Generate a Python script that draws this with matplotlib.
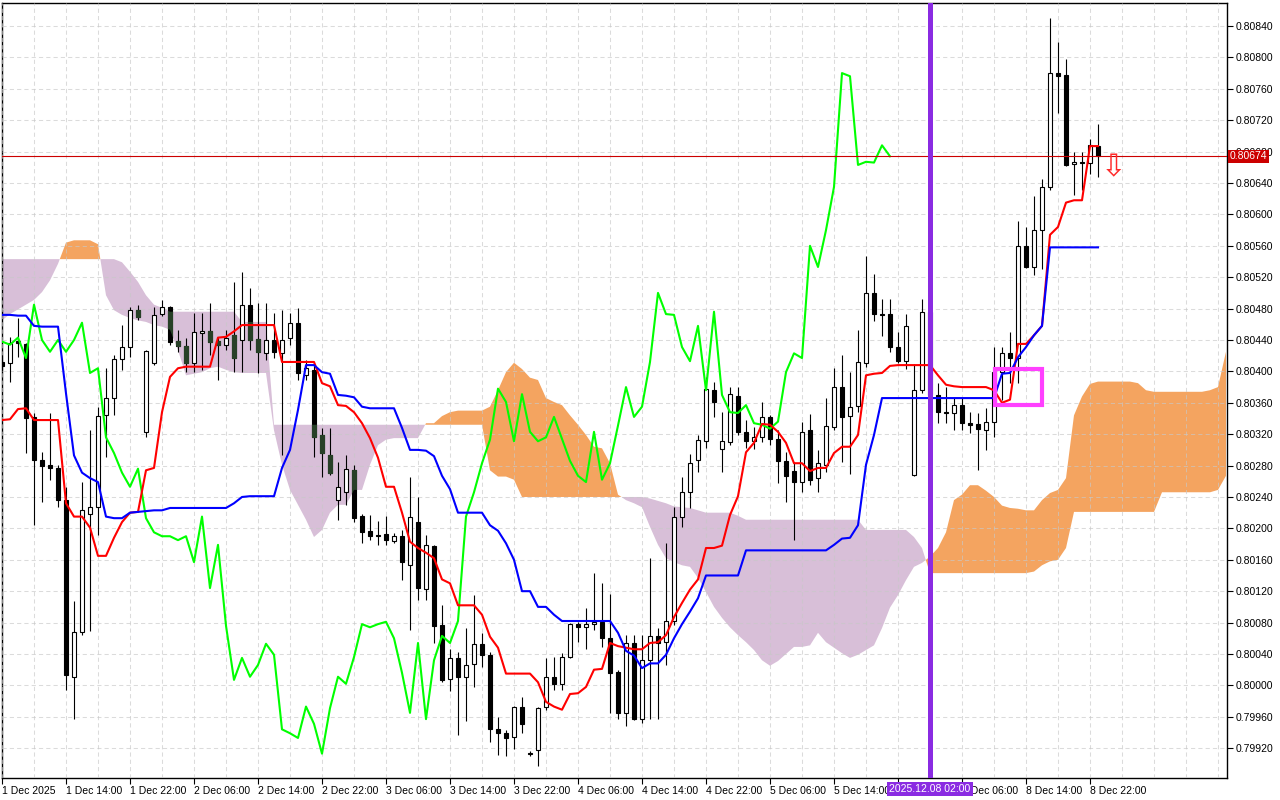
import matplotlib
matplotlib.use("Agg")
import matplotlib.pyplot as plt
import numpy as np
from matplotlib.path import Path
from matplotlib.patches import Rectangle
from matplotlib.ticker import MultipleLocator

# H1 candles, bar 0 = 1 Dec 06:00, bar 137 = 8 Dec 23:00
opens = [
    0.80412, 0.80411, 0.80439, 0.80435, 0.80342, 0.80287, 0.80281, 0.80277, 0.80236, 0.80011,
    0.80068, 0.80218, 0.80227, 0.80344, 0.80366, 0.80416, 0.80431, 0.80478, 0.80323, 0.80411,
    0.80473, 0.80482, 0.80439, 0.80432, 0.80411, 0.80449, 0.80451, 0.80439, 0.80434, 0.80446,
    0.80440, 0.80485, 0.80441, 0.80423, 0.80440, 0.80423, 0.80443, 0.80462, 0.80395, 0.80402,
    0.80319, 0.80293, 0.80236, 0.80246, 0.80274, 0.80216, 0.80197, 0.80192, 0.80193, 0.80184,
    0.80190, 0.80153, 0.80208, 0.80123, 0.80178, 0.80077, 0.80008, 0.80035, 0.80011, 0.80027,
    0.80053, 0.80039, 0.79944, 0.79939, 0.79934, 0.79973, 0.79914, 0.79918, 0.79973, 0.80011,
    0.80002, 0.80036, 0.80078, 0.80074, 0.80078, 0.80081, 0.80060, 0.80017, 0.79965, 0.80054,
    0.79957, 0.80032, 0.80063, 0.80055, 0.80082, 0.80215, 0.80246, 0.80287, 0.80311, 0.80376,
    0.80301, 0.80310, 0.80369, 0.80323, 0.80311, 0.80316, 0.80342, 0.80314, 0.80286, 0.80273,
    0.80259, 0.80325, 0.80264, 0.80281, 0.80329, 0.80380, 0.80343, 0.80356, 0.80411, 0.80500,
    0.80473, 0.80473, 0.80431, 0.80413, 0.80268, 0.80376, 0.80476, 0.80370, 0.80348, 0.80347,
    0.80357, 0.80334, 0.80333, 0.80325, 0.80336, 0.80399, 0.80423, 0.80417, 0.80560, 0.80533,
    0.80580, 0.80635, 0.80780, 0.80778, 0.80664, 0.80667, 0.80666, 0.80687,
]
highs = [
    0.80421, 0.80444, 0.80468, 0.80436, 0.80347, 0.80297, 0.80347, 0.80281, 0.80253, 0.80108,
    0.80259, 0.80325, 0.80355, 0.80404, 0.80421, 0.80459, 0.80482, 0.80485, 0.80427, 0.80482,
    0.80491, 0.80483, 0.80453, 0.80443, 0.80474, 0.80474, 0.80487, 0.80444, 0.80453, 0.80514,
    0.80527, 0.80506, 0.80487, 0.80487, 0.80474, 0.80478, 0.80474, 0.80481, 0.80415, 0.80408,
    0.80328, 0.80328, 0.80285, 0.80293, 0.80281, 0.80218, 0.80217, 0.80209, 0.80216, 0.80194,
    0.80198, 0.80266, 0.80240, 0.80192, 0.80179, 0.80102, 0.80046, 0.80043, 0.80073, 0.80115,
    0.80067, 0.80043, 0.79960, 0.79943, 0.79974, 0.79985, 0.79916, 0.79973, 0.80035, 0.80036,
    0.80041, 0.80080, 0.80081, 0.80099, 0.80143, 0.80130, 0.80116, 0.80020, 0.80064, 0.80064,
    0.80064, 0.80162, 0.80073, 0.80181, 0.80227, 0.80266, 0.80295, 0.80319, 0.80393, 0.80387,
    0.80348, 0.80380, 0.80380, 0.80338, 0.80329, 0.80361, 0.80344, 0.80325, 0.80297, 0.80285,
    0.80336, 0.80346, 0.80300, 0.80366, 0.80404, 0.80421, 0.80399, 0.80453, 0.80547, 0.80524,
    0.80492, 0.80492, 0.80450, 0.80473, 0.80410, 0.80492, 0.80485, 0.80385, 0.80380, 0.80366,
    0.80366, 0.80348, 0.80347, 0.80353, 0.80431, 0.80431, 0.80450, 0.80592, 0.80584, 0.80624,
    0.80645, 0.80850, 0.80820, 0.80798, 0.80680, 0.80680, 0.80696, 0.80715,
]
lows = [
    0.80402, 0.80387, 0.80418, 0.80296, 0.80204, 0.80234, 0.80262, 0.80227, 0.79994, 0.79957,
    0.80064, 0.80069, 0.80192, 0.80291, 0.80344, 0.80402, 0.80418, 0.80465, 0.80316, 0.80408,
    0.80471, 0.80434, 0.80425, 0.80399, 0.80399, 0.80402, 0.80421, 0.80389, 0.80427, 0.80399,
    0.80399, 0.80427, 0.80398, 0.80415, 0.80417, 0.80293, 0.80434, 0.80389, 0.80389, 0.80291,
    0.80266, 0.80268, 0.80211, 0.80230, 0.80208, 0.80181, 0.80185, 0.80179, 0.80179, 0.80181,
    0.80134, 0.80071, 0.80109, 0.80109, 0.80054, 0.80004, 0.79993, 0.79937, 0.79955, 0.79998,
    0.80023, 0.79928, 0.79911, 0.79910, 0.79919, 0.79939, 0.79910, 0.79897, 0.79969, 0.79994,
    0.79994, 0.80035, 0.80055, 0.80046, 0.80071, 0.80049, 0.79965, 0.79957, 0.79948, 0.79956,
    0.79952, 0.79957, 0.79957, 0.80026, 0.80077, 0.80202, 0.80226, 0.80272, 0.80302, 0.80342,
    0.80272, 0.80306, 0.80319, 0.80302, 0.80301, 0.80310, 0.80306, 0.80258, 0.80234, 0.80185,
    0.80246, 0.80255, 0.80246, 0.80272, 0.80325, 0.80285, 0.80269, 0.80348, 0.80406, 0.80464,
    0.80445, 0.80425, 0.80411, 0.80403, 0.80267, 0.80372, 0.80364, 0.80334, 0.80334, 0.80325,
    0.80325, 0.80322, 0.80274, 0.80300, 0.80316, 0.80364, 0.80385, 0.80385, 0.80532, 0.80523,
    0.80530, 0.80631, 0.80729, 0.80662, 0.80625, 0.80631, 0.80651, 0.80648,
]
closes = [
    0.80407, 0.80436, 0.80436, 0.80341, 0.80287, 0.80280, 0.80277, 0.80236, 0.80013, 0.80068,
    0.80223, 0.80227, 0.80343, 0.80366, 0.80416, 0.80431, 0.80478, 0.80469, 0.80426, 0.80472,
    0.80482, 0.80438, 0.80432, 0.80411, 0.80450, 0.80451, 0.80438, 0.80434, 0.80443, 0.80417,
    0.80485, 0.80440, 0.80425, 0.80440, 0.80425, 0.80440, 0.80462, 0.80398, 0.80404, 0.80316,
    0.80296, 0.80271, 0.80253, 0.80276, 0.80213, 0.80195, 0.80190, 0.80190, 0.80185, 0.80190,
    0.80157, 0.80215, 0.80124, 0.80179, 0.80076, 0.80007, 0.80035, 0.80011, 0.80026, 0.80053,
    0.80039, 0.79944, 0.79939, 0.79933, 0.79973, 0.79951, 0.79913, 0.79971, 0.80011, 0.80002,
    0.80036, 0.80078, 0.80074, 0.80078, 0.80081, 0.80060, 0.80016, 0.79965, 0.80054, 0.79957,
    0.80032, 0.80063, 0.80054, 0.80082, 0.80215, 0.80246, 0.80283, 0.80313, 0.80378, 0.80361,
    0.80311, 0.80371, 0.80323, 0.80311, 0.80316, 0.80342, 0.80314, 0.80286, 0.80267, 0.80259,
    0.80323, 0.80262, 0.80283, 0.80331, 0.80380, 0.80342, 0.80355, 0.80412, 0.80500, 0.80473,
    0.80472, 0.80431, 0.80413, 0.80458, 0.80376, 0.80476, 0.80370, 0.80348, 0.80347, 0.80357,
    0.80334, 0.80332, 0.80327, 0.80336, 0.80399, 0.80423, 0.80417, 0.80560, 0.80533, 0.80580,
    0.80635, 0.80780, 0.80776, 0.80663, 0.80667, 0.80666, 0.80688, 0.80674,
]

tenkan = [
    0.80338, 0.80339, 0.80352, 0.80353, 0.80338, 0.80338, 0.80338, 0.80338, 0.80232, 0.80215,
    0.80215, 0.80201, 0.80165, 0.80165, 0.80188, 0.80208, 0.80220, 0.80221, 0.80274, 0.80277,
    0.80348, 0.80393, 0.80404, 0.80406, 0.80406, 0.80406, 0.80406, 0.80443, 0.80444, 0.80451,
    0.80459, 0.80459, 0.80459, 0.80459, 0.80459, 0.80412, 0.80412, 0.80412, 0.80412, 0.80412,
    0.80385, 0.80381, 0.80357, 0.80356, 0.80348, 0.80334, 0.80315, 0.80290, 0.80253, 0.80253,
    0.80220, 0.80183, 0.80175, 0.80169, 0.80162, 0.80135, 0.80130, 0.80102, 0.80102, 0.80102,
    0.80090, 0.80062, 0.80048, 0.80015, 0.80015, 0.80015, 0.80015, 0.80004, 0.79979, 0.79973,
    0.79969, 0.79989, 0.79990, 0.79998, 0.80020, 0.80021, 0.80054, 0.80050, 0.80048, 0.80046,
    0.80046, 0.80054, 0.80055, 0.80064, 0.80087, 0.80105, 0.80122, 0.80135, 0.80175, 0.80175,
    0.80178, 0.80217, 0.80241, 0.80297, 0.80309, 0.80333, 0.80332, 0.80323, 0.80309, 0.80283,
    0.80283, 0.80273, 0.80277, 0.80277, 0.80296, 0.80304, 0.80304, 0.80319, 0.80395, 0.80397,
    0.80398, 0.80407, 0.80408, 0.80408, 0.80408, 0.80408, 0.80408, 0.80395, 0.80383, 0.80381,
    0.80380, 0.80380, 0.80380, 0.80380, 0.80376, 0.80360, 0.80364, 0.80435, 0.80435, 0.80446,
    0.80458, 0.80574, 0.80584, 0.80615, 0.80618, 0.80618, 0.80687, 0.80687,
]
kijun = [
    0.80472, 0.80472, 0.80471, 0.80471, 0.80458, 0.80457, 0.80457, 0.80457, 0.80372, 0.80293,
    0.80271, 0.80264, 0.80259, 0.80215, 0.80213, 0.80213, 0.80220, 0.80221, 0.80222, 0.80223,
    0.80223, 0.80226, 0.80226, 0.80226, 0.80226, 0.80226, 0.80226, 0.80226, 0.80226, 0.80232,
    0.80240, 0.80241, 0.80241, 0.80241, 0.80241, 0.80277, 0.80300, 0.80351, 0.80408, 0.80408,
    0.80399, 0.80397, 0.80370, 0.80369, 0.80367, 0.80355, 0.80353, 0.80353, 0.80353, 0.80353,
    0.80328, 0.80300, 0.80300, 0.80299, 0.80292, 0.80267, 0.80250, 0.80220, 0.80220, 0.80220,
    0.80220, 0.80204, 0.80197, 0.80181, 0.80160, 0.80120, 0.80120, 0.80100, 0.80100, 0.80090,
    0.80082, 0.80082, 0.80082, 0.80082, 0.80082, 0.80082, 0.80082, 0.80067, 0.80044, 0.80038,
    0.80022, 0.80028, 0.80028, 0.80039, 0.80060, 0.80078, 0.80094, 0.80111, 0.80140, 0.80140,
    0.80140, 0.80140, 0.80140, 0.80172, 0.80172, 0.80172, 0.80172, 0.80172, 0.80172, 0.80172,
    0.80172, 0.80172, 0.80172, 0.80172, 0.80179, 0.80187, 0.80188, 0.80204, 0.80281, 0.80319,
    0.80366, 0.80366, 0.80366, 0.80366, 0.80366, 0.80366, 0.80366, 0.80366, 0.80366, 0.80366,
    0.80366, 0.80366, 0.80366, 0.80366, 0.80366, 0.80397, 0.80398, 0.80418, 0.80431, 0.80446,
    0.80458, 0.80558, 0.80558, 0.80558, 0.80558, 0.80558, 0.80558, 0.80558,
]
# Senkou spans, already shifted 26 bars forward (bars 0..153)
span_a = [
    0.80465, 0.80473, 0.80479, 0.80485, 0.80491, 0.80501, 0.80516, 0.80537, 0.80564, 0.80567,
    0.80567, 0.80567, 0.80562, 0.80497, 0.80478, 0.80472, 0.80468, 0.80465, 0.80463, 0.80459,
    0.80457, 0.80453, 0.80427, 0.80395, 0.80397, 0.80399, 0.80404, 0.80406, 0.80402, 0.80399,
    0.80398, 0.80398, 0.80398, 0.80398, 0.80325, 0.80281, 0.80249, 0.80230, 0.80211, 0.80189,
    0.80198, 0.80220, 0.80230, 0.80230, 0.80249, 0.80249, 0.80281, 0.80306, 0.80313, 0.80315,
    0.80315, 0.80315, 0.80315, 0.80334, 0.80334, 0.80343, 0.80348, 0.80350, 0.80350, 0.80350,
    0.80350, 0.80355, 0.80376, 0.80399, 0.80411, 0.80403, 0.80392, 0.80389, 0.80366, 0.80361,
    0.80357, 0.80344, 0.80332, 0.80319, 0.80304, 0.80302, 0.80283, 0.80243, 0.80236, 0.80232,
    0.80227, 0.80202, 0.80179, 0.80162, 0.80157, 0.80153, 0.80151, 0.80137, 0.80119, 0.80100,
    0.80086, 0.80074, 0.80064, 0.80055, 0.80045, 0.80032, 0.80025, 0.80031, 0.80040, 0.80049,
    0.80049, 0.80051, 0.80067, 0.80055, 0.80048, 0.80041, 0.80035, 0.80039, 0.80045, 0.80051,
    0.80073, 0.80099, 0.80115, 0.80134, 0.80151, 0.80156, 0.80164, 0.80175, 0.80195, 0.80236,
    0.80243, 0.80255, 0.80255, 0.80248, 0.80240, 0.80229, 0.80226, 0.80225, 0.80223, 0.80223,
    0.80236, 0.80245, 0.80249, 0.80264, 0.80344, 0.80368, 0.80384, 0.80387, 0.80387, 0.80387,
    0.80387, 0.80387, 0.80385, 0.80376, 0.80374, 0.80374, 0.80374, 0.80374, 0.80374, 0.80374,
    0.80374, 0.80376, 0.80380, 0.80425,
]
span_b = [
    0.80543, 0.80543, 0.80543, 0.80543, 0.80543, 0.80543, 0.80543, 0.80543, 0.80543, 0.80543,
    0.80543, 0.80543, 0.80543, 0.80543, 0.80543, 0.80539, 0.80527, 0.80514, 0.80497, 0.80485,
    0.80481, 0.80476, 0.80476, 0.80476, 0.80476, 0.80476, 0.80476, 0.80476, 0.80476, 0.80476,
    0.80463, 0.80463, 0.80463, 0.80463, 0.80332, 0.80332, 0.80332, 0.80332, 0.80332, 0.80332,
    0.80332, 0.80332, 0.80332, 0.80332, 0.80332, 0.80332, 0.80332, 0.80332, 0.80332, 0.80332,
    0.80332, 0.80332, 0.80332, 0.80332, 0.80332, 0.80332, 0.80332, 0.80332, 0.80332, 0.80332,
    0.80332, 0.80274, 0.80266, 0.80266, 0.80262, 0.80240, 0.80240, 0.80240, 0.80240, 0.80240,
    0.80240, 0.80240, 0.80240, 0.80240, 0.80240, 0.80240, 0.80240, 0.80240, 0.80240, 0.80240,
    0.80240, 0.80238, 0.80235, 0.80232, 0.80228, 0.80227, 0.80226, 0.80223, 0.80220, 0.80220,
    0.80220, 0.80220, 0.80216, 0.80211, 0.80211, 0.80211, 0.80211, 0.80211, 0.80211, 0.80211,
    0.80211, 0.80211, 0.80211, 0.80211, 0.80211, 0.80211, 0.80211, 0.80211, 0.80198, 0.80198,
    0.80198, 0.80198, 0.80198, 0.80198, 0.80189, 0.80175, 0.80143, 0.80143, 0.80143, 0.80143,
    0.80143, 0.80143, 0.80143, 0.80143, 0.80143, 0.80143, 0.80143, 0.80143, 0.80143, 0.80145,
    0.80153, 0.80158, 0.80160, 0.80175, 0.80221, 0.80221, 0.80221, 0.80221, 0.80221, 0.80221,
    0.80221, 0.80221, 0.80221, 0.80221, 0.80221, 0.80246, 0.80246, 0.80246, 0.80246, 0.80246,
    0.80246, 0.80246, 0.80249, 0.80267,
]

# "5 Dec 22:00" sits under the vertical-line label in the terminal, so it is left blank
time_labels = [
    "1 Dec 2025", "1 Dec 14:00", "1 Dec 22:00", "2 Dec 06:00", "2 Dec 14:00", "2 Dec 22:00",
    "3 Dec 06:00", "3 Dec 14:00", "3 Dec 22:00", "4 Dec 06:00", "4 Dec 14:00", "4 Dec 22:00",
    "5 Dec 06:00", "5 Dec 14:00", "", "8 Dec 06:00", "8 Dec 14:00", "8 Dec 22:00",
]
label_bars = [0, 8, 16, 24, 32, 40, 48, 56, 64, 72, 80, 88, 96, 104, 112, 120, 128, 136]

vline_bar = 116
vline_text = "2025.12.08 02:00"
box_bars = (124.1, 130.0)
box_prices = (0.80357, 0.80403)
arrow_bar = 138.9
arrow_price = 0.80659
chikou_shift = 26

plt.rcParams["font.family"] = ["Liberation Sans", "DejaVu Sans"]

o = np.array(opens)
h = np.array(highs)
l = np.array(lows)
c = np.array(closes)
a = np.array(span_a)
b = np.array(span_b)
bars = np.arange(len(c))
cloud_bars = np.arange(len(a))

fig = plt.figure(figsize=(12.8, 8), dpi=100)
ax = fig.add_axes([2 / 1280, 22 / 800, 1225 / 1280, 775 / 800])
ax.set_xlim(0, 153.125)
ax.set_ylim(0.798820, 0.808693)

# kumo
ax.fill_between(cloud_bars, a, b, where=a >= b, interpolate=True,
                color="#f4a460", lw=0, zorder=1)
down = ax.fill_between(cloud_bars, a, b, where=a < b, interpolate=True,
                       color="#d8bfd8", lw=0, zorder=1)

# candles
ax.vlines(bars, l, h, color="black", lw=0.8, zorder=3)
body_low = np.minimum(o, c)
body_h = np.maximum(np.abs(c - o), 0.000012)
up = c > o
dn = ~up
ax.bar(bars[up], body_h[up], 0.55, bottom=body_low[up], color="white",
       edgecolor="black", lw=0.8, zorder=3.1)
ax.bar(bars[dn], body_h[dn], 0.55, bottom=body_low[dn], color="black",
       edgecolor="black", lw=0.8, zorder=3.1)
# bear bodies show dark green where they sit inside the thistle cloud
shade = ax.bar(bars[dn], body_h[dn], 0.55, bottom=body_low[dn], color="#274027",
               edgecolor="#274027", lw=0.8, zorder=3.2)
cloud_path = Path.make_compound_path(*down.get_paths())
for patch in shade:
    patch.set_clip_path(cloud_path, ax.transData)

# ichimoku lines
ax.plot(bars[:-chikou_shift], c[chikou_shift:], color="#00ff00", lw=1.5, zorder=4)
ax.plot(bars, tenkan, color="#ff0000", lw=1.5, zorder=4.1)
ax.plot(bars, kijun, color="#0000ff", lw=1.5, zorder=4.2)

ax.axhline(c[-1], color="#cc0000", lw=0.8, zorder=4.5)
ax.axvline(vline_bar, color="#8a2be2", lw=3.6, zorder=5)
ax.add_patch(Rectangle((box_bars[0], box_prices[0]), box_bars[1] - box_bars[0],
                       box_prices[1] - box_prices[0], fill=False,
                       edgecolor="#ff40ff", lw=3, zorder=5))
ax.text(arrow_bar, arrow_price, "\u21e9", color="#ff2a2a", fontsize=22,
        ha="center", va="center", family="DejaVu Sans", zorder=6)

# axes, ticks, grid
price_ticks = np.linspace(0.79920, 0.80840, 24)
ax.set_yticks(price_ticks)
ax.set_yticklabels([f"{p:.5f}" for p in price_ticks])
ax.yaxis.tick_right()
ax.set_xticks(label_bars)
ax.set_xticklabels(time_labels, ha="left")
ax.xaxis.set_minor_locator(MultipleLocator(4))
ax.set_axisbelow(False)
ax.grid(True, which="both", color="#c8c8c8", alpha=0.65, lw=0.75, ls=(0, (4, 3)))
ax.tick_params(axis="y", direction="out", length=4, width=0.8, labelsize=7.5, pad=2)
ax.tick_params(axis="x", which="major", direction="out", length=4, width=0.8,
               labelsize=7.5, pad=2)
ax.tick_params(axis="x", which="minor", length=0)
for spine in ax.spines.values():
    spine.set_color("black")
    spine.set_linewidth(1)

ax.annotate(vline_text, xy=(vline_bar, 0), xycoords=("data", "axes fraction"),
            xytext=(0, -11), textcoords="offset pixels", ha="center", va="center",
            color="white", fontsize=7.5, annotation_clip=False, zorder=10,
            bbox=dict(boxstyle="square,pad=0.2", fc="#8a2be2", ec="none"))
ax.annotate(f"{c[-1]:.5f}", xy=(1, c[-1]), xycoords=("axes fraction", "data"),
            xytext=(3, 0), textcoords="offset pixels", ha="left", va="center",
            color="white", fontsize=7.5, annotation_clip=False, zorder=10,
            bbox=dict(boxstyle="square,pad=0.15", fc="#cc0000", ec="none"))

fig.savefig("out.png", dpi=100)
